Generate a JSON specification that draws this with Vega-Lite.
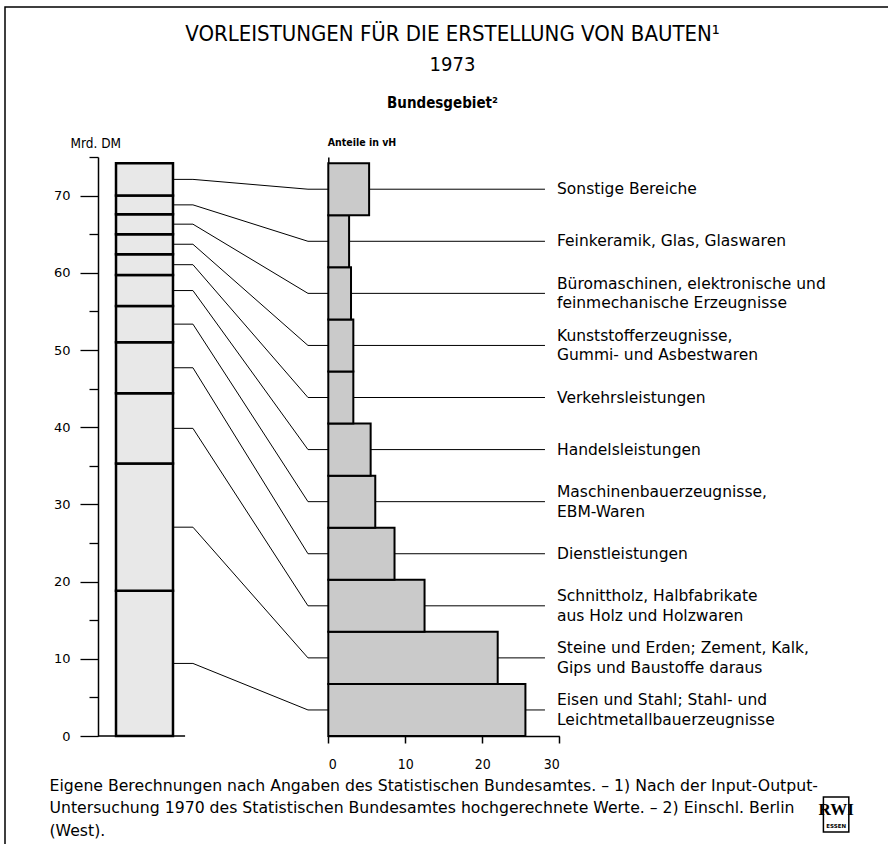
{
  "$schema": "https://vega.github.io/schema/vega-lite/v6.json",
  "width": 883,
  "height": 837,
  "autosize": {"type": "none"},
  "padding": {"left": 5, "top": 7, "right": 0, "bottom": 0},
  "background": "white",
  "title": {
    "text": "VORLEISTUNGEN FÜR DIE ERSTELLUNG VON BAUTEN¹",
    "subtitle": "1973",
    "anchor": "middle",
    "frame": "group",
    "font": "Liberation Sans Narrow, DejaVu Sans Condensed, sans-serif",
    "fontSize": 22,
    "fontWeight": "normal",
    "color": "black",
    "subtitleFont": "Liberation Sans Narrow, DejaVu Sans Condensed, sans-serif",
    "subtitleFontSize": 20,
    "subtitleColor": "black",
    "subtitlePadding": 9,
    "offset": 0,
    "dy": 69,
    "dx": 6
  },
  "data": {
    "values": [
      {"rank": 1, "label": ["Eisen und Stahl; Stahl- und", "Leichtmetallbauerzeugnisse"], "mrd": 18.8, "share": 25.6},
      {"rank": 2, "label": ["Steine und Erden; Zement, Kalk,", "Gips und Baustoffe daraus"], "mrd": 16.5, "share": 22.0},
      {"rank": 3, "label": ["Schnittholz, Halbfabrikate", "aus Holz und Holzwaren"], "mrd": 9.1, "share": 12.5},
      {"rank": 4, "label": "Dienstleistungen", "mrd": 6.6, "share": 8.6},
      {"rank": 5, "label": ["Maschinenbauerzeugnisse,", "EBM-Waren"], "mrd": 4.7, "share": 6.1},
      {"rank": 6, "label": "Handelsleistungen", "mrd": 4.0, "share": 5.5},
      {"rank": 7, "label": "Verkehrsleistungen", "mrd": 2.7, "share": 3.25},
      {"rank": 8, "label": ["Kunststofferzeugnisse,", "Gummi- und Asbestwaren"], "mrd": 2.6, "share": 3.25},
      {"rank": 9, "label": ["Büromaschinen, elektronische und", "feinmechanische Erzeugnisse"], "mrd": 2.6, "share": 2.95},
      {"rank": 10, "label": "Feinkeramik, Glas, Glaswaren", "mrd": 2.4, "share": 2.7},
      {"rank": 11, "label": "Sonstige Bereiche", "mrd": 4.2, "share": 5.3}
    ]
  },
  "transform": [
    {"stack": "mrd", "groupby": [], "sort": [{"field": "rank", "order": "ascending"}], "as": ["lo", "hi"]},
    {"joinaggregate": [{"op": "sum", "field": "mrd", "as": "total"}, {"op": "count", "as": "n"}]},
    {"calculate": "(datum.lo + datum.hi) / 2", "as": "mid"},
    {"calculate": "(datum.rank - 1) * datum.total / datum.n", "as": "rlo"},
    {"calculate": "datum.rank * datum.total / datum.n", "as": "rhi"},
    {"calculate": "(datum.rank - 0.5) * datum.total / datum.n", "as": "rc"}
  ],
  "layer": [
    {
      "mark": {"type": "rule", "color": "black", "strokeWidth": 1},
      "encoding": {
        "x": {"datum": -2.64, "type": "quantitative", "scale": {"domain": [0, 30], "range": [323.3, 554.3], "nice": false}, "axis": null},
        "x2": {"datum": 28.14},
        "y": {"field": "rc", "type": "quantitative", "scale": {"domain": [0, 75], "range": [729, 150], "nice": false},
          "axis": {"orient": "left", "offset": -93, "values": [5, 15, 25, 35, 45, 55, 65, 75], "tickSize": 9, "tickWidth": 1.3, "tickColor": "black", "labels": false, "domain": false, "grid": false, "title": null}}
      }
    },
    {
      "mark": {"type": "rect", "fill": "#cacaca", "stroke": "black", "strokeWidth": 2},
      "encoding": {
        "x": {"field": "share", "type": "quantitative", "scale": {"domain": [0, 30], "range": [323.3, 554.3], "nice": false},
          "axis": {"orient": "bottom", "offset": -108, "values": [0, 10, 20, 30], "tickSize": 7, "tickWidth": 1.5, "domainWidth": 1.5, "domainColor": "black", "tickColor": "black", "grid": false,
            "labelFont": "Liberation Sans Narrow, DejaVu Sans Condensed, sans-serif", "labelFontSize": 14, "labelColor": "black", "labelPadding": 21, "labelBaseline": "middle",
            "title": ["Eigene Berechnungen nach Angaben des Statistischen Bundesamtes. – 1) Nach der Input-Output-", "Untersuchung 1970 des Statistischen Bundesamtes hochgerechnete Werte. – 2) Einschl. Berlin", "(West)."],
            "titleX": 44, "titleY": 54, "titleAlign": "left", "titleBaseline": "alphabetic", "titleAngle": 0,
            "titleFont": "DejaVu Sans", "titleFontSize": 15.7, "titleFontWeight": "normal", "titleColor": "black", "titleLineHeight": 22.5}},
        "x2": {"datum": 0},
        "y": {"field": "rlo", "type": "quantitative", "scale": {"domain": [0, 75], "range": [729, 150], "nice": false},
          "axis": {"orient": "left", "offset": -323.3, "ticks": false, "labels": false, "domain": true, "domainWidth": 1.5, "domainColor": "black", "grid": false,
            "title": "Anteile in vH", "titleAngle": 0, "titleAlign": "left", "titleBaseline": "middle", "titleX": -1, "titleY": 135,
            "titleFont": "DejaVu Sans Condensed, Liberation Sans Narrow, sans-serif", "titleFontSize": 10.5, "titleFontWeight": "bold", "titleColor": "black"}},
        "y2": {"field": "rhi"}
      }
    },
    {
      "mark": {"type": "rect", "fill": "#e8e8e8", "stroke": "black", "strokeWidth": 2.5},
      "encoding": {
        "x": {"datum": -27.57, "type": "quantitative", "scale": {"domain": [0, 30], "range": [323.3, 554.3], "nice": false}, "axis": null},
        "x2": {"datum": -20.17},
        "y": {"field": "lo", "type": "quantitative", "scale": {"domain": [0, 75], "range": [729, 150], "nice": false},
          "axis": {"orient": "left", "offset": -93, "values": [0, 10, 20, 30, 40, 50, 60, 70], "tickSize": 18, "tickWidth": 1.3, "tickColor": "black", "domainWidth": 1.5, "domainColor": "black", "grid": false,
            "labelPadding": 10, "labelFont": "DejaVu Sans", "labelFontSize": 13, "labelColor": "black",
            "title": "Mrd. DM", "titleAngle": 0, "titleAlign": "left", "titleBaseline": "middle", "titleX": -28, "titleY": 136,
            "titleFont": "Liberation Sans Narrow, DejaVu Sans Condensed, sans-serif", "titleFontSize": 13.5, "titleFontWeight": "normal", "titleColor": "black"}},
        "y2": {"field": "hi"}
      }
    },
    {
      "mark": {"type": "rule", "color": "black", "strokeWidth": 1},
      "encoding": {
        "x": {"datum": -20.17, "type": "quantitative", "scale": {"domain": [0, 30], "range": [323.3, 554.3], "nice": false}, "axis": null},
        "x2": {"datum": -17.58},
        "y": {"field": "mid", "type": "quantitative", "scale": {"domain": [0, 75], "range": [729, 150], "nice": false}, "axis": null}
      }
    },
    {
      "mark": {"type": "rule", "color": "black", "strokeWidth": 1},
      "encoding": {
        "x": {"datum": -17.58, "type": "quantitative", "scale": {"domain": [0, 30], "range": [323.3, 554.3], "nice": false}, "axis": null},
        "x2": {"datum": -2.64},
        "y": {"field": "mid", "type": "quantitative", "scale": {"domain": [0, 75], "range": [729, 150], "nice": false}, "axis": null},
        "y2": {"field": "rc"}
      }
    },
    {
      "transform": [{"filter": "!isArray(datum.label)"}],
      "mark": {"type": "text", "align": "left", "baseline": "middle", "font": "DejaVu Sans", "fontSize": 15.5, "lineHeight": 19, "color": "black"},
      "encoding": {
        "x": {"datum": 29.7, "type": "quantitative", "scale": {"domain": [0, 30], "range": [323.3, 554.3], "nice": false},
          "axis": {"orient": "top", "domain": false, "ticks": false, "labels": false, "grid": false,
            "title": "Bundesgebiet²", "titleX": 437, "titleY": 100, "titleAlign": "center", "titleBaseline": "alphabetic", "titleAngle": 0,
            "titleFont": "Liberation Sans Narrow, DejaVu Sans Condensed, sans-serif", "titleFontSize": 15, "titleFontWeight": "bold", "titleColor": "black"}},
        "y": {"field": "rc", "type": "quantitative", "scale": {"domain": [0, 75], "range": [729, 150], "nice": false}, "axis": null},
        "text": {"field": "label", "type": "nominal"}
      }
    },
    {
      "transform": [{"filter": "isArray(datum.label)"}],
      "mark": {"type": "text", "align": "left", "baseline": "middle", "font": "DejaVu Sans", "fontSize": 15.5, "lineHeight": 19.5, "dy": -9.5, "color": "black"},
      "encoding": {
        "x": {"datum": 29.7, "type": "quantitative", "scale": {"domain": [0, 30], "range": [323.3, 554.3], "nice": false}, "axis": null},
        "y": {"field": "rc", "type": "quantitative", "scale": {"domain": [0, 75], "range": [729, 150], "nice": false}, "axis": null},
        "text": {"field": "label", "type": "nominal"}
      }
    },
    {
      "data": {"values": [{"item": "baseline"}]},
      "mark": {"type": "rule", "color": "black", "strokeWidth": 1.5},
      "encoding": {
        "x": {"datum": -29.9, "type": "quantitative", "scale": {"domain": [0, 30], "range": [323.3, 554.3], "nice": false}, "axis": null},
        "x2": {"datum": -18.6},
        "y": {"datum": 0, "type": "quantitative", "scale": {"domain": [0, 75], "range": [729, 150], "nice": false}, "axis": null}
      }
    },
    {
      "data": {"values": [{"item": "logo"}]},
      "mark": {"type": "rect", "fill": "white", "stroke": "black", "strokeWidth": 1.5},
      "encoding": {
        "x": {"datum": 64.3, "type": "quantitative", "scale": {"domain": [0, 30], "range": [323.3, 554.3], "nice": false}, "axis": null},
        "x2": {"datum": 67.6},
        "y": {"datum": -7.9, "type": "quantitative", "scale": {"domain": [0, 75], "range": [729, 150], "nice": false}, "axis": null},
        "y2": {"datum": -12.44}
      }
    },
    {
      "data": {"values": [{"item": "logo"}]},
      "mark": {"type": "text", "align": "center", "baseline": "middle", "font": "Liberation Serif, DejaVu Serif, serif", "fontSize": 17, "fontWeight": "bold", "color": "black", "text": "RWI"},
      "encoding": {
        "x": {"datum": 65.95, "type": "quantitative", "scale": {"domain": [0, 30], "range": [323.3, 554.3], "nice": false}, "axis": null},
        "y": {"datum": -9.6, "type": "quantitative", "scale": {"domain": [0, 75], "range": [729, 150], "nice": false}, "axis": null}
      }
    },
    {
      "data": {"values": [{"item": "logo"}]},
      "mark": {"type": "text", "align": "center", "baseline": "middle", "font": "DejaVu Sans", "fontSize": 5.5, "fontWeight": "bold", "color": "black", "text": "ESSEN"},
      "encoding": {
        "x": {"datum": 65.95, "type": "quantitative", "scale": {"domain": [0, 30], "range": [323.3, 554.3], "nice": false}, "axis": null},
        "y": {"datum": -11.7, "type": "quantitative", "scale": {"domain": [0, 75], "range": [729, 150], "nice": false}, "axis": null}
      }
    }
  ],
  "resolve": {"axis": {"x": "independent", "y": "independent"}},
  "config": {
    "view": {"stroke": "black", "strokeWidth": 1.5, "strokeDash": [883, 1720, 837]},
    "axis": {"grid": false}
  }
}
